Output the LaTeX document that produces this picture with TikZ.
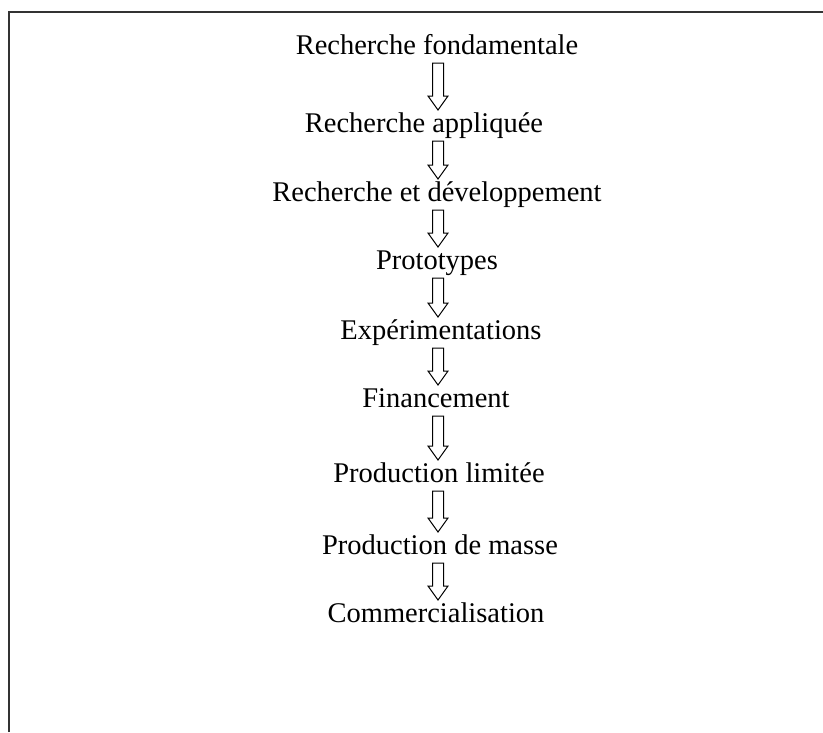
\documentclass[tikz,border=0pt]{standalone}
\usepackage{fontspec}
\setmainfont{Liberation Serif}
\usetikzlibrary{calc}
\begin{document}
\begin{tikzpicture}[x=1pt,y=-1pt,
  step label/.style={anchor=base,inner sep=0pt,font=\fontsize{28.5}{34}\selectfont},
  hollow/.style={line width=1pt,line join=miter,
    to path={let \p1=(\tikztostart),\p2=(\tikztotarget) in
      (\x1-5.5pt,\y1) -- (\x1+5.5pt,\y1) -- (\x1+5.5pt,\y2+14pt) -- (\x1+10pt,\y2+14pt)
      -- (\x1,\y2) -- (\x1-10pt,\y2+14pt) -- (\x1-5.5pt,\y2+14pt) -- cycle}},
  frame/.style={line width=2pt,color=black!80}]
\useasboundingbox (0,0) rectangle (823,732);
% open frame: top and left edges only
\coordinate (fl) at (9,732);
\coordinate (fc) at (9,12);
\coordinate (fr) at (823,12);
\draw[frame] (fl) -- (fc) -- (fr);
% stages of the innovation chain
\node[step label] (s1) at (437,54)  {Recherche fondamentale};
\node[step label] (s2) at (424,132) {Recherche appliquée};
\node[step label] (s3) at (437,201) {Recherche et développement};
\node[step label] (s4) at (437,269) {Prototypes};
\node[step label] (s5) at (441,339) {Expérimentations};
\node[step label] (s6) at (436,407) {Financement};
\node[step label] (s7) at (439,482) {Production limitée};
\node[step label] (s8) at (440,554) {Production de masse};
\node[step label] (s9) at (436,622) {Commercialisation};
% hollow block arrows between consecutive stages
\foreach \a/\b in {s1/s2,s2/s3,s3/s4,s4/s5,s5/s6,s6/s7,s7/s8,s8/s9}
  \draw[hollow] ($(\a.base)+(0,9)$) coordinate (t) ($(\b.base)+(0,-22)$) coordinate (h)
    (t -| 438,0) to (h -| 438,0);
\end{tikzpicture}
\end{document}
